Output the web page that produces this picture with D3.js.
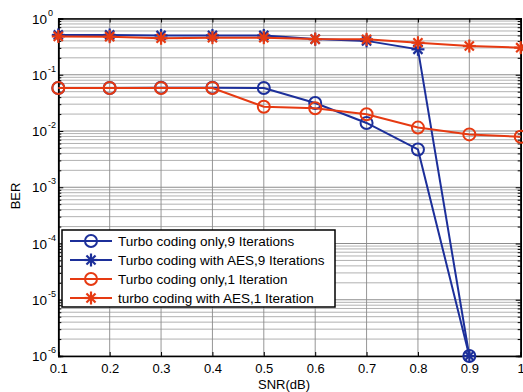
<!DOCTYPE html>
<html><head><meta charset="utf-8">
<script src="https://cdn.jsdelivr.net/npm/d3@7"></script>
<style>body{margin:0;background:#fff}svg{display:block}text{font-family:"Liberation Sans",Arial,sans-serif}</style>
</head><body>
<script>
const snr = [0.1,0.2,0.3,0.4,0.5,0.6,0.7,0.8,0.9,1.0];
const turbo9 = [0.058,0.058,0.059,0.059,0.058,0.0315,0.0139,0.0047,1e-6];
const aes9 = [0.51,0.51,0.50,0.50,0.50,0.43,0.40,0.283,1e-6];
const turbo1 = [0.058,0.058,0.058,0.058,0.027,0.0253,0.0198,0.0115,0.0087,0.0079];
const aes1 = [0.48,0.475,0.445,0.456,0.456,0.43,0.427,0.371,0.324,0.303];
const xTicks = [0.1,0.2,0.3,0.4,0.5,0.6,0.7,0.8,0.9,1];
const yExps = [0,-1,-2,-3,-4,-5,-6];
const legendLabels = ["Turbo coding only,9 Iterations","Turbo coding with AES,9 Iterations","Turbo coding only,1 Iteration","turbo coding with AES,1 Iteration"];
const BLUE="#1c2f9a", RED="#e63a12";
const series=[
 {vals:turbo9,color:BLUE,marker:"o"},
 {vals:aes9,color:BLUE,marker:"*"},
 {vals:turbo1,color:RED,marker:"o"},
 {vals:aes1,color:RED,marker:"*"}];

const W=523,H=392;
const svg=d3.select("body").append("svg").attr("width",W).attr("height",H);
const x=d3.scaleLinear().domain([0.1,1]).range([58.3,520.7]);
const y=d3.scaleLog().domain([1e-6,1]).range([356,18.5]);
const L=58.3,R=520.7,T=18.5,B=356;

const g=svg.append("g");
const minors=[];
for(let e=-6;e<0;e++){for(let k=2;k<=9;k++)minors.push(k*Math.pow(10,e));}
g.selectAll(".mg").data(minors).enter().append("line")
 .attr("x1",L).attr("x2",R).attr("y1",d=>y(d)).attr("y2",d=>y(d))
 .attr("stroke","#a8a8a8").attr("stroke-width",0.9);
g.selectAll(".Mg").data(yExps).enter().append("line")
 .attr("x1",L).attr("x2",R).attr("y1",d=>y(Math.pow(10,d))).attr("y2",d=>y(Math.pow(10,d)))
 .attr("stroke","#808080").attr("stroke-width",0.9);
g.selectAll(".vg").data(xTicks).enter().append("line")
 .attr("x1",d=>x(d)).attr("x2",d=>x(d)).attr("y1",T).attr("y2",B)
 .attr("stroke","#8a8a8a").attr("stroke-width",0.9);

const xAxB=d3.axisBottom(x).tickValues(xTicks).tickSize(-4).tickPadding(8).tickFormat(d=>d===1?"1":d3.format(".1f")(d));
const xAxT=d3.axisTop(x).tickValues(xTicks).tickSize(-4).tickFormat("");
const yAxL=d3.axisLeft(y).tickValues(minors).tickSize(-3).tickFormat("");
const yAxR=d3.axisRight(y).tickValues(minors).tickSize(-3).tickFormat("");
const yAxLM=d3.axisLeft(y).tickValues(yExps.map(e=>Math.pow(10,e))).tickSize(-5).tickFormat("");
const yAxRM=d3.axisRight(y).tickValues(yExps.map(e=>Math.pow(10,e))).tickSize(-5).tickFormat("");
function style(sel){sel.selectAll("path").attr("stroke","#000").attr("stroke-width",1.5);sel.selectAll("line").attr("stroke","#000").attr("stroke-width",1);sel.selectAll("text").attr("fill","#000").attr("font-size",13);}
svg.append("g").attr("transform",`translate(0,${B})`).call(xAxB).call(style);
svg.append("g").attr("transform",`translate(0,${T})`).call(xAxT).call(style);
svg.append("g").attr("transform",`translate(${L},0)`).call(yAxL).call(style);
svg.append("g").attr("transform",`translate(${R},0)`).call(yAxR).call(style);
svg.append("g").attr("transform",`translate(${L},0)`).call(yAxLM).call(style);
svg.append("g").attr("transform",`translate(${R},0)`).call(yAxRM).call(style);

yExps.forEach(e=>{
  svg.append("text").attr("x",47).attr("y",y(Math.pow(10,e))+5).attr("text-anchor","end").attr("font-size",13.5).text("10");
  svg.append("text").attr("x",48).attr("y",y(Math.pow(10,e))-3).attr("font-size",9).text(e);
});
svg.append("text").attr("x",284).attr("y",389).attr("text-anchor","middle").attr("font-size",13).text("SNR(dB)");
svg.append("text").attr("transform","translate(20,196) rotate(-90)").attr("text-anchor","middle").attr("font-size",13).text("BER");

const line=d3.line().x(d=>x(d[0])).y(d=>y(d[1]));
function drawMarker(sel,type,color,cx,cy){
  if(type==="o"){
    sel.append("circle").attr("cx",cx).attr("cy",cy).attr("r",6).attr("fill","none").attr("stroke",color).attr("stroke-width",2);
  } else {
    const r=6.5;
    [[r,0],[0,r],[r*0.7,r*0.7],[r*0.7,-r*0.7]].forEach(([dx,dy])=>{
      sel.append("line").attr("x1",cx-dx).attr("x2",cx+dx).attr("y1",cy-dy).attr("y2",cy+dy).attr("stroke",color).attr("stroke-width",2.2);
    });
  }
}
series.forEach(s=>{
  const pts=s.vals.map((v,i)=>[snr[i],v]);
  svg.append("path").attr("d",line(pts)).attr("fill","none").attr("stroke",s.color).attr("stroke-width",2);
  const mg=svg.append("g");
  pts.forEach(p=>drawMarker(mg,s.marker,s.color,x(p[0]),y(p[1])));
});

const lg=svg.append("g");
lg.append("rect").attr("x",62).attr("y",230).attr("width",273).attr("height",77).attr("fill","#fff").attr("stroke","#000").attr("stroke-width",1.5);
const rowY=[241,260,279,298];
series.forEach((s,i)=>{
  lg.append("line").attr("x1",70).attr("x2",112).attr("y1",rowY[i]).attr("y2",rowY[i]).attr("stroke",s.color).attr("stroke-width",2);
  drawMarker(lg,s.marker,s.color,91,rowY[i]);
  lg.append("text").attr("x",118).attr("y",rowY[i]+5).attr("font-size",13.5).attr("fill","#000").text(legendLabels[i]);
});
</script>
</body></html>
